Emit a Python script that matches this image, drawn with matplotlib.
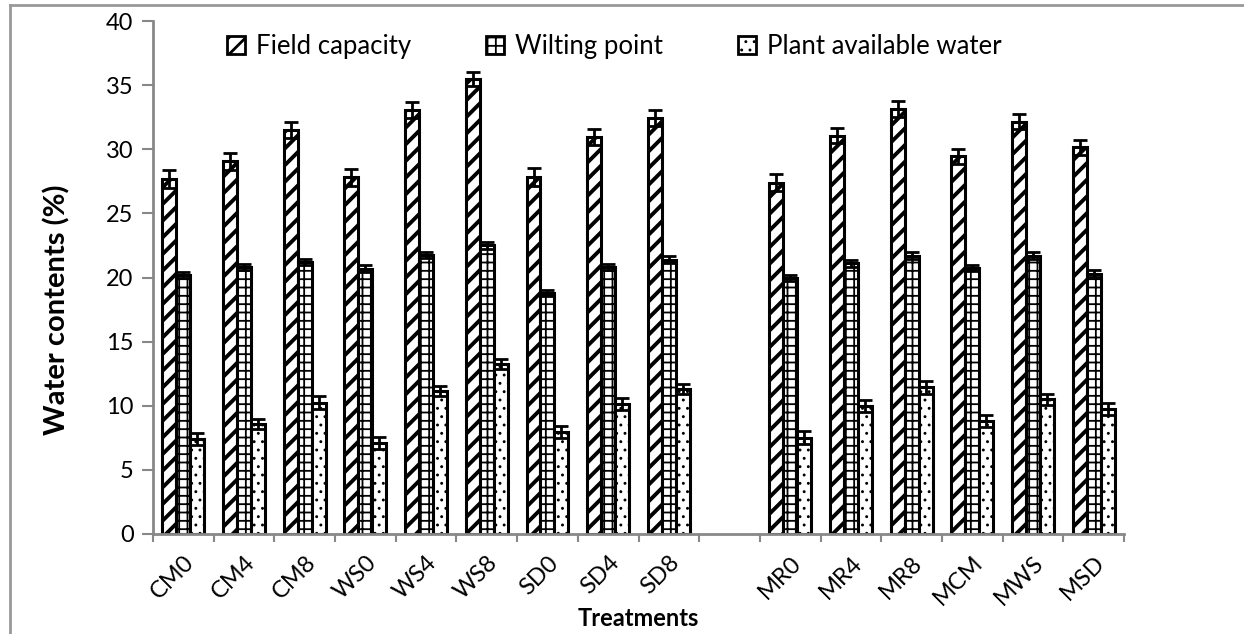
import numpy as np
import matplotlib
matplotlib.use('Agg')
import matplotlib.pyplot as plt
from matplotlib.lines import Line2D

# treatments (empty slot between the two groups)
treatments = ['CM0', 'CM4', 'CM8', 'WS0', 'WS4', 'WS8', 'SD0', 'SD4', 'SD8', '',
              'MR0', 'MR4', 'MR8', 'MCM', 'MWS', 'MSD']

field_capacity = [27.65, 29.05, 31.5, 27.8, 33.05, 35.45, 27.85, 30.95, 32.45, np.nan,
                  27.4, 31.05, 33.15, 29.45, 32.15, 30.15]
fc_err = [0.7, 0.65, 0.6, 0.65, 0.6, 0.55, 0.7, 0.6, 0.6, np.nan,
          0.65, 0.6, 0.6, 0.6, 0.6, 0.6]

wilting_point = [20.2, 20.8, 21.2, 20.7, 21.75, 22.5, 18.8, 20.8, 21.4, np.nan,
                 19.95, 21.1, 21.7, 20.75, 21.7, 20.3]
wp_err = [0.25, 0.25, 0.25, 0.25, 0.25, 0.25, 0.25, 0.25, 0.25, np.nan,
          0.25, 0.25, 0.25, 0.25, 0.25, 0.25]

plant_water = [7.4, 8.6, 10.25, 7.1, 11.15, 13.25, 7.95, 10.15, 11.3, np.nan,
               7.5, 10.0, 11.45, 8.8, 10.5, 9.75]
paw_err = [0.45, 0.4, 0.5, 0.45, 0.4, 0.4, 0.5, 0.45, 0.4, np.nan,
           0.5, 0.45, 0.5, 0.45, 0.45, 0.5]

series = [('Field capacity', field_capacity, fc_err, '//', 2.8),
          ('Wilting point', wilting_point, wp_err, '++', 1.3),
          ('Plant available water', plant_water, paw_err, '..', 0.9)]

plt.rcParams['font.family'] = ['Lato', 'DejaVu Sans']
plt.rcParams['hatch.color'] = 'black'

fig = plt.figure(figsize=(12.44, 6.34), dpi=100)
ax = fig.add_axes([153 / 1244, 1 - 534 / 634, (1124 - 153) / 1244, (534 - 21) / 634])

x = np.arange(len(treatments))
w = 0.23
handles = []
for i, (name, vals, errs, hatch, hlw) in enumerate(series):
    plt.rcParams['hatch.linewidth'] = hlw  # picked up when the patches are made
    pos = x + (i - 1) * w
    bars = ax.bar(pos, vals, w, color='white', edgecolor='black', linewidth=2.2,
                  hatch=hatch, zorder=2)
    for b in bars:
        if hasattr(b, 'set_hatch_linewidth'):
            b.set_hatch_linewidth(hlw)
    ax.errorbar(pos, vals, yerr=errs, fmt='none', ecolor='black', elinewidth=2.0,
                capsize=5, capthick=2.0, zorder=3)
    handles.append(bars)

ax.set_xlim(-0.5, len(treatments) - 0.5)
ax.set_ylim(0, 40)
ax.set_yticks(range(0, 41, 5))
ax.set_xticks(np.arange(-0.5, len(treatments), 1), minor=False)
ax.set_xticklabels([])
ax.set_xticks(x, minor=True)
ax.set_xticklabels(treatments, minor=True, rotation=45, ha='right',
                   rotation_mode='anchor', fontsize=17)
ax.tick_params(axis='x', which='minor', length=0, pad=13)
ax.tick_params(axis='x', which='major', length=6, width=1.5, color='#888888',
               direction='out')
ax.tick_params(axis='y', length=8, width=1.5, color='#888888', labelsize=17, pad=6)

for s in ['top', 'right']:
    ax.spines[s].set_visible(False)
for s in ['left', 'bottom']:
    ax.spines[s].set_color('#888888')
    ax.spines[s].set_linewidth(2)

ax.set_ylabel('Water contents (%)', fontsize=21, fontweight='bold')
ax.yaxis.set_label_coords(-0.0855, 0.437)
ax.set_xlabel('Treatments', fontsize=17, fontweight='bold')
ax.xaxis.set_label_coords(0.5, -0.142)

leg = ax.legend(handles, [s[0] for s in series], loc='upper center', ncol=3,
                bbox_to_anchor=(0.475, 1.02), frameon=False, fontsize=18.5,
                handlelength=0.7, handleheight=0.7, columnspacing=2.9,
                handletextpad=0.45)
for h, s in zip(leg.legend_handles, series):
    h.set_linewidth(2)
    if hasattr(h, 'set_hatch_linewidth'):
        h.set_hatch_linewidth(min(s[4], 2.0))

# frame lines around the figure
fig.add_artist(Line2D([10 / 1244, 1], [1 - 5 / 634, 1 - 5 / 634],
                      transform=fig.transFigure, color='#999999', lw=2))
fig.add_artist(Line2D([10 / 1244, 10 / 1244], [0, 1 - 5 / 634],
                      transform=fig.transFigure, color='#999999', lw=2))

fig.savefig('out.png', dpi=100)
